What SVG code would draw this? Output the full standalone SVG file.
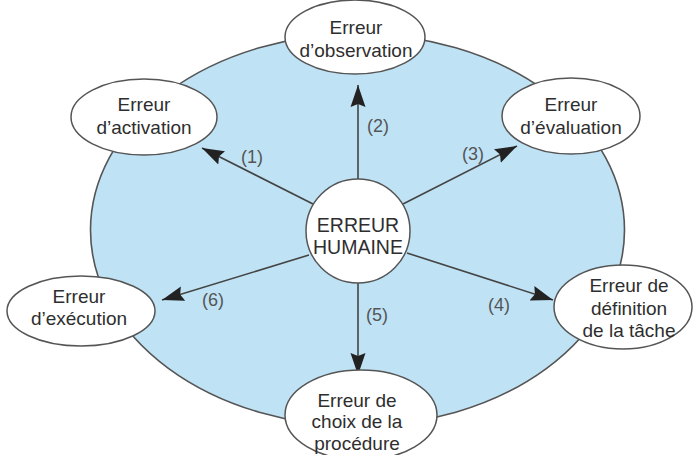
<svg xmlns="http://www.w3.org/2000/svg" width="694" height="455" viewBox="0 0 694 455">
<defs>
<style>
.bg{fill:#fff}
.big{fill:#bfe3f5;stroke:#555;stroke-width:1.6}
.node{fill:#fff;stroke:#555;stroke-width:1.5}
.t{font-family:"Liberation Sans",Arial,sans-serif;font-size:19px;fill:#2e2e2e;text-anchor:middle}
.c{font-family:"Liberation Sans",Arial,sans-serif;font-size:19.5px;fill:#2e2e2e;text-anchor:middle}
.lbl{font-family:"Liberation Sans",Arial,sans-serif;font-size:18px;fill:#555;text-anchor:middle}
.conn{stroke:#444;stroke-width:1.6;fill:none;marker-end:url(#ah)}
</style>
<marker id="ah" markerUnits="userSpaceOnUse" markerWidth="24" markerHeight="16" refX="22" refY="8" orient="auto">
<path d="M0,0.5 L22,8 L0,15.5 L3,8 Z" fill="#222"/>
</marker>
</defs>
<rect class="bg" x="0" y="0" width="694" height="455"/>
<ellipse class="big" cx="357.5" cy="230" rx="267" ry="196"/>
<g id="connectors">
<line class="conn" x1="358" y1="179" x2="358" y2="85"/>
<line class="conn" x1="313" y1="204" x2="202" y2="148"/>
<line class="conn" x1="403" y1="204" x2="517" y2="146"/>
<line class="conn" x1="407" y1="253" x2="553" y2="300"/>
<line class="conn" x1="358" y1="283" x2="358" y2="375"/>
<line class="conn" x1="309" y1="255" x2="162" y2="300"/>
<text class="lbl" x="252" y="163">(1)</text>
<text class="lbl" x="378" y="132">(2)</text>
<text class="lbl" x="473" y="160">(3)</text>
<text class="lbl" x="499" y="311">(4)</text>
<text class="lbl" x="377" y="321">(5)</text>
<text class="lbl" x="213" y="306">(6)</text>
</g>
<g id="center">
<circle class="node" cx="358" cy="231" r="52"/>
<text class="c" x="358" y="232">ERREUR</text>
<text class="c" x="358" y="254">HUMAINE</text>
</g>
<g id="observation">
<ellipse class="node" cx="355" cy="37" rx="70" ry="37"/>
<text class="t" x="356" y="34">Erreur</text>
<text class="t" x="356" y="57">d’observation</text>
</g>
<g id="activation">
<ellipse class="node" cx="144" cy="117" rx="73" ry="38"/>
<text class="t" x="144" y="111">Erreur</text>
<text class="t" x="144" y="134">d’activation</text>
</g>
<g id="evaluation">
<ellipse class="node" cx="571" cy="116" rx="69" ry="38"/>
<text class="t" x="571" y="111">Erreur</text>
<text class="t" x="571" y="134">d’évaluation</text>
</g>
<g id="execution">
<ellipse class="node" cx="81" cy="311" rx="74" ry="35"/>
<text class="t" x="79" y="303">Erreur</text>
<text class="t" x="79" y="325">d’exécution</text>
</g>
<g id="definition">
<ellipse class="node" cx="623" cy="307" rx="69" ry="42"/>
<text class="t" x="629" y="292">Erreur de</text>
<text class="t" x="629" y="315">définition</text>
<text class="t" x="629" y="337">de la tâche</text>
</g>
<g id="procedure">
<ellipse class="node" cx="361" cy="415" rx="76" ry="45"/>
<text class="t" x="357" y="407">Erreur de</text>
<text class="t" x="357" y="428">choix de la</text>
<text class="t" x="357" y="450">procédure</text>
</g>
</svg>
